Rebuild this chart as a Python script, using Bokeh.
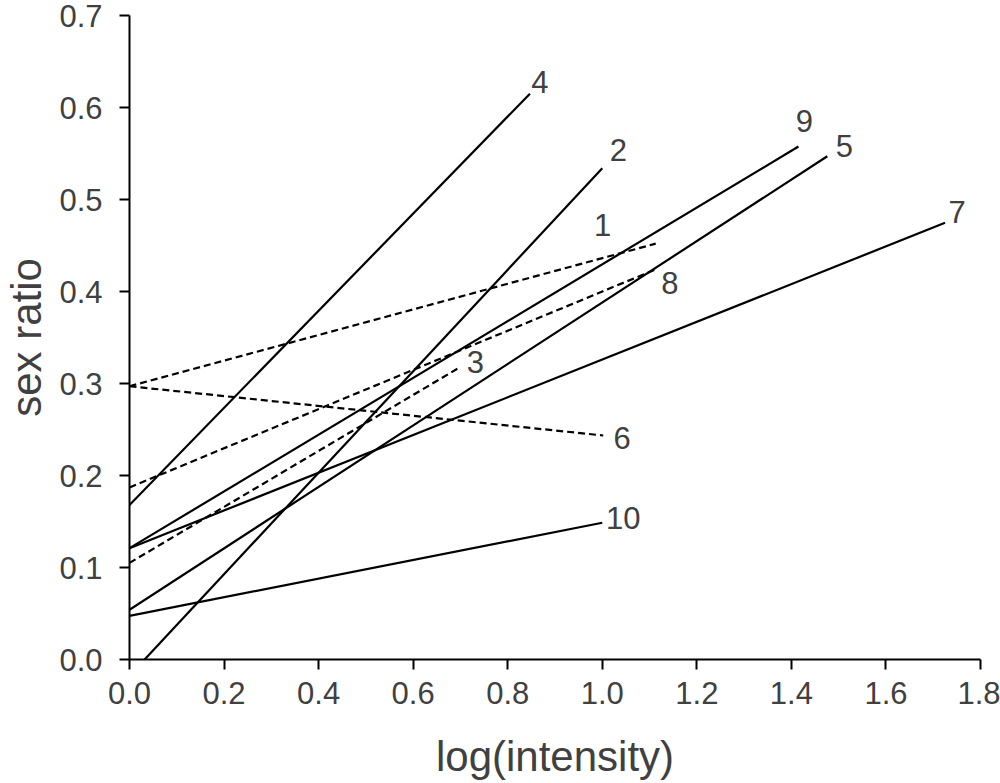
from bokeh.plotting import figure
from bokeh.models import ColumnDataSource, Range1d, FixedTicker
from bokeh.embed import file_html
from bokeh.resources import INLINE
from bokeh.core.properties import value

# Fitted sex-ratio lines: start and end of each regression segment
line_ids = ["1", "2", "3", "4", "5", "6", "7", "8", "9", "10"]
x_start = [0.0, 0.032, 0.0, 0.0, 0.0, 0.0, 0.0, 0.0, 0.0, 0.0]
y_start = [0.297, 0.0, 0.105, 0.168, 0.054, 0.297, 0.121, 0.187, 0.121, 0.0475]
x_end = [1.113, 1.0, 0.70, 0.847, 1.476, 1.002, 1.725, 1.111, 1.415, 1.0]
y_end = [0.452, 0.534, 0.318, 0.615, 0.547, 0.2435, 0.4747, 0.4236, 0.5576, 0.1486]
dashed = [True, False, True, False, False, True, False, True, False, False]

x_ticks = [0.0, 0.2, 0.4, 0.6, 0.8, 1.0, 1.2, 1.4, 1.6, 1.8]
y_ticks = [0.0, 0.1, 0.2, 0.3, 0.4, 0.5, 0.6, 0.7]

# label placement relative to each line's end point (screen pixels, y down)
label_dx = [-53, 16, 15, 10, 17, 19, 12, 15, 6, 21]
label_dy = [-19, -18, -5, -12, -10, 3, -11, 13, -26, -5]

FONT = "Liberation Sans"
TEXT = "#404040"

p = figure(width=1000, height=783, output_backend="svg", toolbar_location=None,
           x_range=Range1d(0, 1.8), y_range=Range1d(0, 0.7),
           min_border_left=127, min_border_right=20,
           min_border_top=15, min_border_bottom=124)
p.outline_line_color = None
p.grid.visible = False
p.background_fill_color = "white"
p.border_fill_color = "white"

def rows(flag):
    idx = [i for i, d in enumerate(dashed) if d == flag]
    return dict(x0=[x_start[i] for i in idx], y0=[y_start[i] for i in idx],
                x1=[x_end[i] for i in idx], y1=[y_end[i] for i in idx])

p.segment("x0", "y0", "x1", "y1", source=ColumnDataSource(rows(False)),
          line_color="black", line_width=2.2)
p.segment("x0", "y0", "x1", "y1", source=ColumnDataSource(rows(True)),
          line_color="black", line_width=2.2, line_dash="7 4")

lab = ColumnDataSource(dict(x=x_end, y=y_end, t=line_ids, dx=label_dx, dy=label_dy))
p.text("x", "y", text="t", source=lab, x_offset="dx", y_offset="dy",
       text_align="center", text_baseline="middle",
       text_font=value(FONT), text_font_size="31px", text_color=TEXT)

for ax in (p.xaxis, p.yaxis):
    ax.axis_line_color = "black"
    ax.axis_line_width = 2
    ax.major_tick_line_color = "black"
    ax.major_tick_line_width = 2
    ax.major_tick_in = 0
    ax.major_tick_out = 10
    ax.minor_tick_line_color = None
    ax.major_label_text_font = FONT
    ax.major_label_text_font_size = "31px"
    ax.major_label_text_color = TEXT
    ax.axis_label_text_font = FONT
    ax.axis_label_text_font_size = "42px"
    ax.axis_label_text_font_style = "normal"
    ax.axis_label_text_color = TEXT

p.xaxis.ticker = FixedTicker(ticks=x_ticks)
p.yaxis.ticker = FixedTicker(ticks=y_ticks)
p.xaxis.major_label_overrides = {t: f"{t:.1f}" for t in x_ticks}
p.yaxis.major_label_overrides = {t: f"{t:.1f}" for t in y_ticks}
p.xaxis.axis_label = "log(intensity)"
p.yaxis.axis_label = "sex ratio"
p.xaxis.major_label_standoff = 12
p.yaxis.major_label_standoff = 17
p.xaxis.axis_label_standoff = 26
p.yaxis.axis_label_standoff = 6

open("out.html", "w").write(file_html(p, INLINE))
